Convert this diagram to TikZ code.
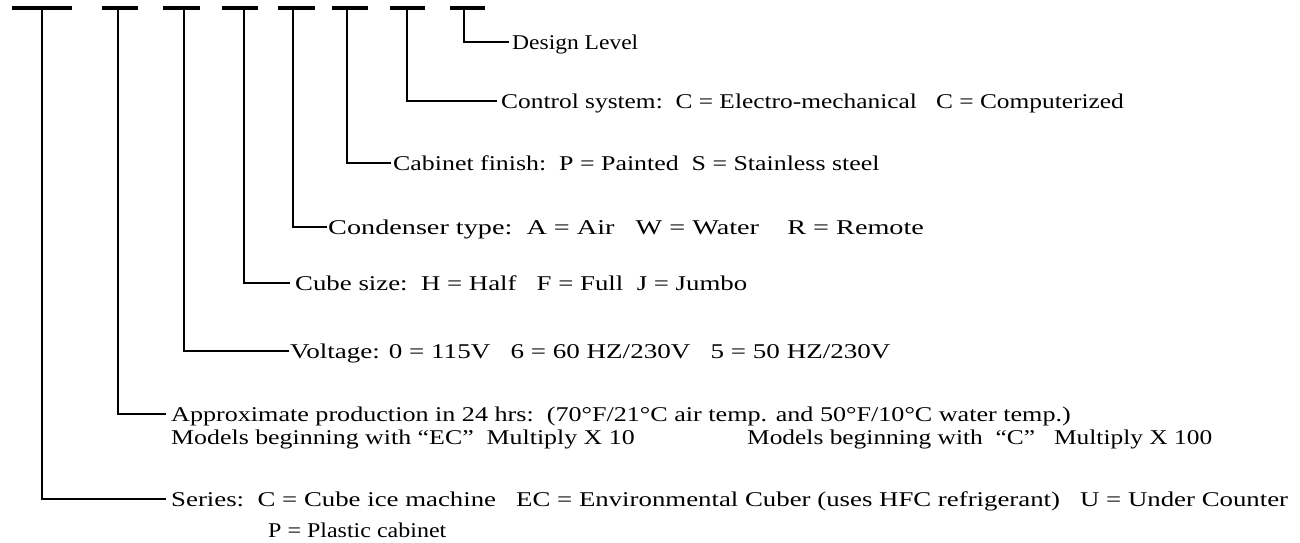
\documentclass[tikz,border=0pt]{standalone}
\usepackage{graphicx}
\usepackage{fontspec}
\setmainfont[FakeStretch=1.12]{Liberation Serif}
\newcommand{\sx}[2]{\scalebox{#1}[1]{#2}}
\begin{document}
\begin{tikzpicture}[x=1pt,y=-1pt,
  dashbar/.style={line width=3.2pt},
  conn/.style={line width=2pt},
  lbl/.style={anchor=base west,inner sep=0pt,font=\fontsize{21}{24}\selectfont}]
\useasboundingbox (0,0) rectangle (1300,543);
% dash bars
\foreach \i/\a/\b/\v in {1/12/72/42,2/102/138/118,3/163/200/184,4/222/258/244,5/278/315/293,6/332/368/347,7/390/425/407,8/450/485/464}{
  \coordinate (L\i) at (\a,8);
  \coordinate (R\i) at (\b,8);
  \coordinate (v\i) at (\v,8);
  \draw[dashbar] (L\i) -- (R\i);
}
% labels
\node[lbl] (t8) at (512,49) {Design Level};
\node[lbl] (t7) at (501,108) {\sx{1.08}{Control system:\ \ C = Electro-mechanical\ \ \ C = Computerized}};
\node[lbl] (t6) at (393,170) {\sx{1.10}{Cabinet finish:\ \ P = Painted\ \ S = Stainless steel}};
\node[lbl] (t5) at (328,234) {\sx{1.20}{Condenser type:\ \ A = Air\ \ \ W = Water\ \ \ \ R = Remote}};
\node[lbl] (t4) at (295,290) {\sx{1.14}{Cube size:\ \ H = Half\ \ \ F = Full\ \ J = Jumbo}};
\node[lbl] (t3) at (290,358) {\sx{1.15}{Voltage: 0 = 115V\ \ \ 6 = 60 HZ/230V\ \ \ 5 = 50 HZ/230V}};
\node[lbl] (t2) at (171,421) {\sx{1.11}{Approximate production in 24 hrs:\ \ (70°F/21°C air temp. and 50°F/10°C water temp.)}};
\node[lbl] (t2b) at (171,444) {\sx{1.10}{Models beginning with “EC”\ \ Multiply X 10}};
\node[lbl] (t2c) at (747,444) {\sx{1.08}{Models beginning with\ \ “C”\ \ \ Multiply X 100}};
\node[lbl] (t1) at (171,506) {\sx{1.14}{Series:\ \ C = Cube ice machine\ \ \ EC = Environmental Cuber (uses HFC refrigerant)\ \ \ U = Under Counter}};
\node[lbl] (t1b) at (268,537) {\sx{1.02}{P = Plastic cabinet}};
% connector ends
\coordinate (e8) at (509,42);
\coordinate (e7) at (497,101);
\coordinate (e6) at (391,163);
\coordinate (e5) at (327,227);
\coordinate (e4) at (290,283);
\coordinate (e3) at (289,351);
\coordinate (e2) at (166,414);
\coordinate (e1) at (166,499);
\foreach \i in {1,...,8}{
  \draw[conn] (v\i) |- (e\i);
}
\end{tikzpicture}
\end{document}
